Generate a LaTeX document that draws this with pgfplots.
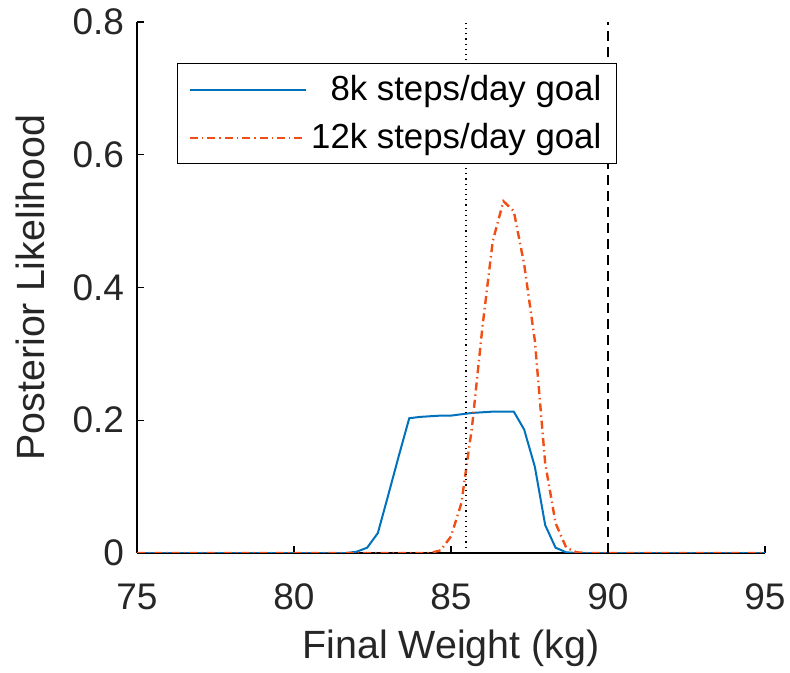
\documentclass[border=0pt]{standalone}
\usepackage{pgfplots}
\pgfplotsset{compat=1.18}
\usepackage{fontspec}
\setmainfont{Liberation Sans}
\definecolor{mblue}{RGB}{0,114,189}
\definecolor{mred}{RGB}{240,78,20}
\begin{document}
\begin{tikzpicture}
\path[use as bounding box] (-68.5bp,-60bp) rectangle (326.5bp,276.5bp);
\begin{axis}[
  scale only axis,
  width=314bp, height=265.5bp,
  xmin=75, xmax=95, ymin=0, ymax=0.8,
  axis x line=bottom, axis y line=left,
  axis line style={-, black, line width=0.6bp},
  xtick={75,80,85,90,95},
  ytick={0,0.2,0.4,0.6,0.8},
  yticklabels={0,0.2,0.4,0.6,0.8},
  tick align=inside,
  major tick length=3.5bp,
  tick style={black, line width=0.6bp},
  /pgf/number format/assume math mode=true,
  tick label style={font=\fontsize{18.5bp}{20bp}\selectfont, text=black!85},
  label style={font=\fontsize{19.7bp}{22bp}\selectfont, text=black!85},
  xlabel={Final Weight (kg)},
  ylabel={Posterior Likelihood},
  xticklabel style={yshift=-12bp},
  yticklabel style={xshift=-3bp},
  xlabel style={yshift=-3bp},
  ylabel style={yshift=7bp},
  legend style={at={(0.064,0.923)}, anchor=north west, draw=black, line width=0.6bp,
    font=\fontsize{17.4bp}{20bp}\selectfont, text=black, cells={anchor=east}, inner xsep=5.5bp, inner ysep=4bp,
    row sep=6bp, /tikz/every even column/.append style={column sep=3bp}},
  legend cell align=right,
  legend image code/.code={\draw[#1] (0bp,0bp) -- (58bp,0bp);},
]
\addplot[mblue, line width=1bp] coordinates {
(75,0) (81.67,0) (82.0,0.002) (82.33,0.008) (82.67,0.03) (83.0,0.087) (83.33,0.145)
(83.67,0.203) (84.0,0.205) (84.33,0.206) (84.67,0.207) (85.0,0.207) (85.33,0.209)
(85.67,0.211) (86.0,0.212) (86.33,0.213) (86.67,0.213) (87.0,0.213) (87.33,0.186)
(87.67,0.13) (88.0,0.042) (88.33,0.008) (88.67,0.001) (89.0,0) (95,0)
};
\addlegendentry{8k steps/day goal}
\addplot[mred, line width=1.2bp, dash pattern=on 4bp off 2bp on 0.7bp off 2bp] coordinates {
(75,0) (84.33,0) (84.67,0.004) (85.0,0.025) (85.33,0.075) (85.67,0.19) (86.0,0.34)
(86.33,0.47) (86.67,0.53) (87.0,0.515) (87.33,0.435) (87.67,0.32) (88.0,0.135)
(88.33,0.045) (88.67,0.008) (89.0,0.001) (89.33,0) (95,0)
};
\addlegendentry{12k steps/day goal}
\addplot[black, line width=0.6bp, dotted, forget plot] coordinates {(85.48,0) (85.48,0.8)};
\addplot[black, line width=0.7bp, dash pattern=on 5bp off 3bp, forget plot] coordinates {(90,0) (90,0.8)};
\end{axis}
\end{tikzpicture}
\end{document}
